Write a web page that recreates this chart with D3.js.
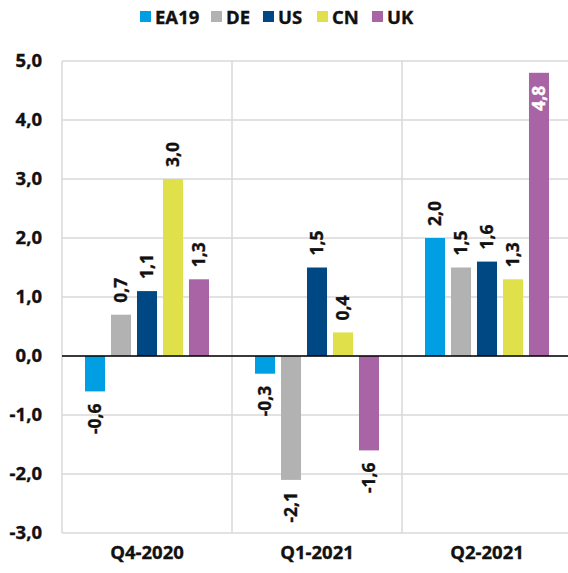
<!DOCTYPE html>
<html>
<head>
<meta charset="utf-8">
<script src="https://cdn.jsdelivr.net/npm/d3@7"></script>
<style>
  body { margin: 0; background: #fff; }
  svg text { font-family: "Open Sans", sans-serif; font-weight: bold; fill: #111; stroke: #111; stroke-width: 0.35px; }
</style>
</head>
<body>
<div id="chart"></div>
<script>
const quarters = ["Q4-2020", "Q1-2021", "Q2-2021"];
const seriesNames = ["EA19", "DE", "US", "CN", "UK"];
const seriesColors = ["#009fe3", "#b2b2b2", "#004884", "#dfe04a", "#a864a4"];
const ea19 = [-0.6, -0.3, 2.0];
const de = [0.7, -2.1, 1.5];
const us = [1.1, 1.5, 1.6];
const cn = [3.0, 0.4, 1.3];
const uk = [1.3, -1.6, 4.8];
const yTicks = [-3, -2, -1, 0, 1, 2, 3, 4, 5];

const values = [ea19, de, us, cn, uk];
const width = 568, height = 573;
const margin = { top: 61, right: -4, bottom: 40, left: 62 };

const svg = d3.select("#chart").append("svg")
    .attr("width", width)
    .attr("height", height);

const x0 = d3.scaleBand()
    .domain(quarters)
    .range([margin.left, width - margin.right]);

const x1 = d3.scaleBand()
    .domain(seriesNames)
    .range([0, x0.bandwidth()])
    .paddingInner(0.23)
    .paddingOuter(0.885);

const y = d3.scaleLinear()
    .domain([-3, 5])
    .range([height - margin.bottom, margin.top]);

// comma decimals and a plain hyphen for the minus sign
const locale = d3.formatLocale({ decimal: ",", thousands: ".", grouping: [3], currency: ["", ""], minus: "-" });
const fmt = locale.format(".1f");

// grid
svg.append("g")
    .selectAll("line")
    .data(yTicks)
    .join("line")
    .attr("x1", margin.left)
    .attr("x2", width)
    .attr("y1", d => y(d))
    .attr("y2", d => y(d))
    .attr("stroke", "#d9d9d9")
    .attr("stroke-width", 1.5);

svg.append("g")
    .selectAll("line")
    .data(quarters.concat(["end"]))
    .join("line")
    .attr("x1", (d, i) => margin.left + i * x0.bandwidth())
    .attr("x2", (d, i) => margin.left + i * x0.bandwidth())
    .attr("y1", y(5))
    .attr("y2", y(-3))
    .attr("stroke", "#d9d9d9")
    .attr("stroke-width", 1.5);

// y axis labels
const yAxis = svg.append("g")
    .attr("transform", `translate(${margin.left},0)`)
    .call(d3.axisLeft(y).tickValues(yTicks).tickFormat(fmt).tickSize(0).tickPadding(20));
yAxis.select(".domain").remove();
yAxis.selectAll("text")
    .attr("font-size", 18.5)
    .attr("font-family", null)
    .attr("fill", null);

// x axis labels
const xAxis = svg.append("g")
    .attr("transform", `translate(0,${y(-3)})`)
    .call(d3.axisBottom(x0).tickSize(0).tickPadding(13));
xAxis.select(".domain").remove();
xAxis.selectAll("text")
    .attr("font-size", 18.5)
    .attr("font-family", null)
    .attr("fill", null);

// bars
const rows = [];
quarters.forEach((q, qi) => {
    seriesNames.forEach((s, si) => {
        rows.push({ q, s, si, v: values[si][qi] });
    });
});

svg.append("g")
    .selectAll("rect")
    .data(rows)
    .join("rect")
    .attr("x", d => x0(d.q) + x1(d.s))
    .attr("width", x1.bandwidth())
    .attr("y", d => y(Math.max(0, d.v)))
    .attr("height", d => Math.abs(y(d.v) - y(0)))
    .attr("fill", d => seriesColors[d.si]);

// zero line
svg.append("line")
    .attr("x1", margin.left)
    .attr("x2", width)
    .attr("y1", y(0))
    .attr("y2", y(0))
    .attr("stroke", "#000")
    .attr("stroke-width", 1.5);

// value labels
svg.append("g")
    .selectAll("text")
    .data(rows)
    .join("text")
    .attr("transform", d => {
        const cx = x0(d.q) + x1(d.s) + x1.bandwidth() / 2;
        const inside = d.v > 4.5;
        let cy;
        if (inside) cy = y(d.v) + 13;
        else if (d.v >= 0) cy = y(d.v) - 12;
        else cy = y(d.v) + 12;
        return `translate(${cx},${cy}) rotate(-90)`;
    })
    .attr("text-anchor", d => (d.v > 4.5 || d.v < 0) ? "end" : "start")
    .attr("dy", "0.35em")
    .attr("font-size", 17.5)
    .style("fill", d => d.v > 4.5 ? "#fff" : "#111")
    .style("stroke", d => d.v > 4.5 ? "#fff" : "#111")
    .text(d => fmt(d.v));

// legend
const legendX = [140, 211, 263, 317, 372];
const legend = svg.append("g")
    .selectAll("g")
    .data(seriesNames)
    .join("g")
    .attr("transform", (d, i) => `translate(${legendX[i]},11)`);
legend.append("rect")
    .attr("width", 11)
    .attr("height", 11)
    .attr("fill", (d, i) => seriesColors[i]);
legend.append("text")
    .attr("x", 15)
    .attr("y", 6)
    .attr("dy", "0.36em")
    .attr("font-size", 18.5)
    .text(d => d);
</script>
</body>
</html>
